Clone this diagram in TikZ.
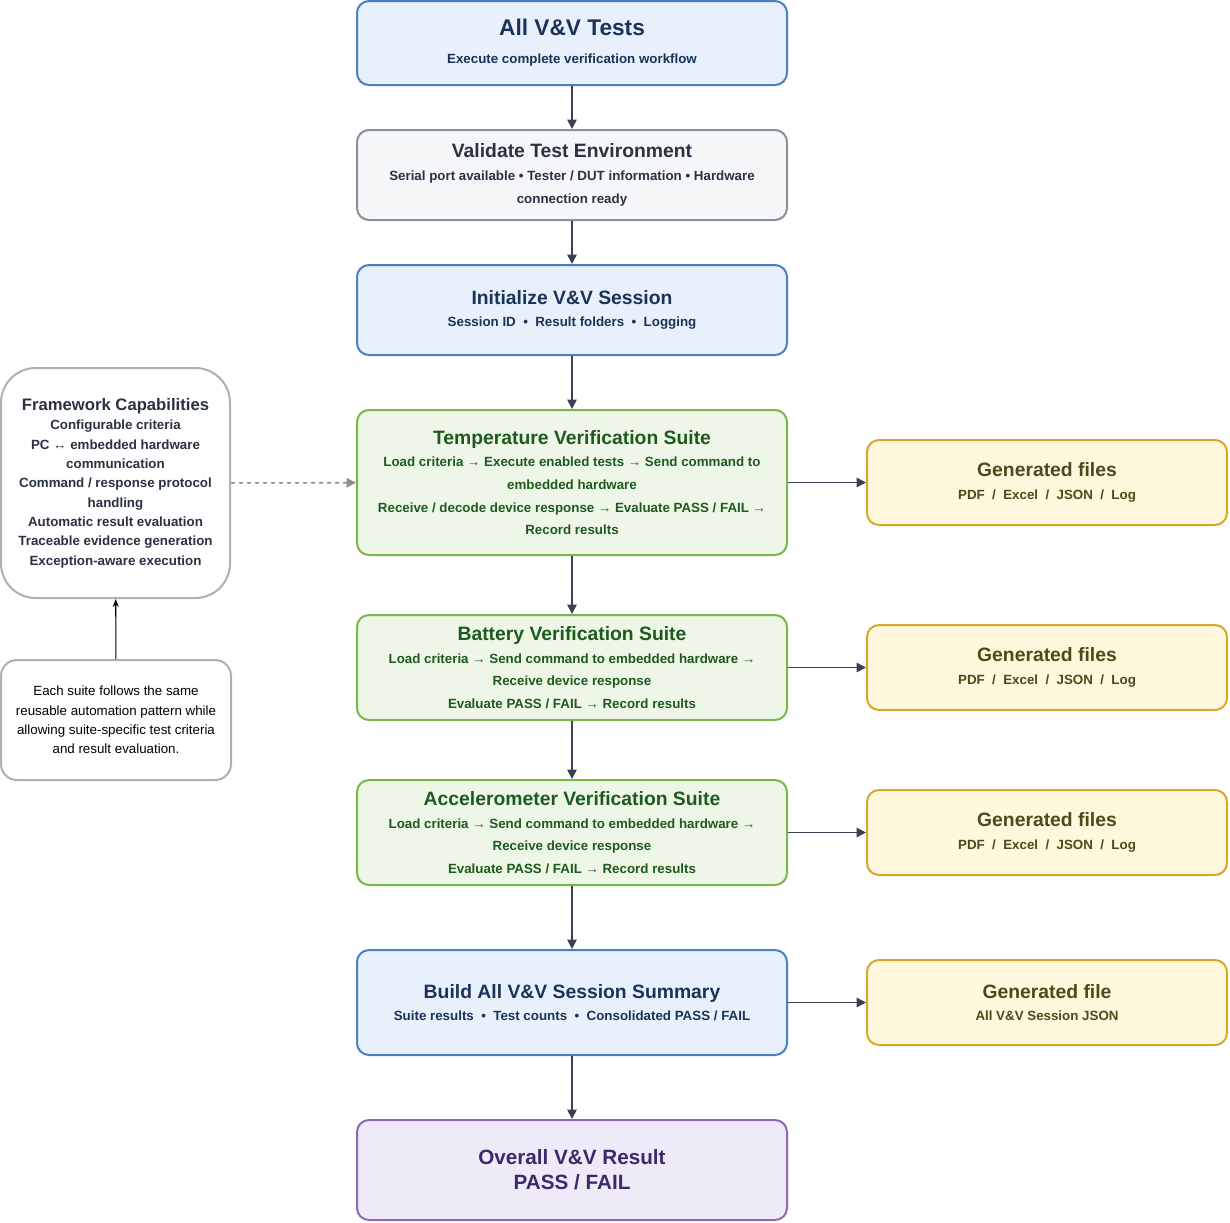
\documentclass[tikz,border=0pt]{standalone}
\usepackage{fontspec}
\setmainfont{Liberation Sans}
\usetikzlibrary{arrows.meta}
\definecolor{bfill}{HTML}{E8F0FB}\definecolor{bdraw}{HTML}{4A7FC1}\definecolor{btext}{HTML}{1B3358}
\definecolor{gfill}{HTML}{F5F6F8}\definecolor{gdraw}{HTML}{8A9099}\definecolor{gtext}{HTML}{2A3140}
\definecolor{grfill}{HTML}{EEF6E8}\definecolor{grdraw}{HTML}{7AB648}\definecolor{grtext}{HTML}{1E5A1E}
\definecolor{pfill}{HTML}{EFEAF8}\definecolor{pdraw}{HTML}{8A6BB0}\definecolor{ptext}{HTML}{3B2A6B}
\definecolor{yfill}{HTML}{FFF8DC}\definecolor{ydraw}{HTML}{D4A82A}\definecolor{ytext}{HTML}{4A4A1A}
\definecolor{ldraw}{HTML}{AAB0BA}\definecolor{arr}{HTML}{3A4150}
\newcommand\ttlf{\bfseries\fontsize{14.5}{17}\selectfont}
\tikzset{x=0.75pt,y=-0.75pt,
 box/.style={draw,line width=1.5pt,rounded corners=9pt,minimum width=430*0.75pt,align=center,font=\bfseries\fontsize{10}{17}\selectfont,inner sep=0pt},
 bluebox/.style={box,fill=bfill,draw=bdraw,text=btext},
 graybox/.style={box,fill=gfill,draw=gdraw,text=gtext},
 greenbox/.style={box,fill=grfill,draw=grdraw,text=grtext},
 purplebox/.style={box,fill=pfill,draw=pdraw,text=ptext},
 yelbox/.style={box,fill=yfill,draw=ydraw,text=ytext,minimum width=360*0.75pt,minimum height=85*0.75pt},
 flow/.style={draw=arr,line width=1.2pt,-{Triangle[length=7pt,width=7pt]}}}
\begin{document}
\begin{tikzpicture}
\useasboundingbox (0,0) rectangle (1230,1222);
\node[bluebox,minimum height=84*0.75pt] (a) at (572,43) {{\fontsize{17}{20}\selectfont All V\&V Tests}\\[4pt]Execute complete verification workflow};
\node[graybox,minimum height=90*0.75pt] (b) at (572,175) {{\ttlf Validate Test Environment}\\Serial port available • Tester / DUT information • Hardware\\connection ready};
\node[bluebox,minimum height=90*0.75pt] (c) at (572,310) {{\ttlf Initialize V\&V Session}\\Session ID\ \ •\ \ Result folders\ \ •\ \ Logging};
\node[greenbox,minimum height=145*0.75pt] (d) at (572,482.5) {{\ttlf Temperature Verification Suite}\\Load criteria → Execute enabled tests → Send command to\\embedded hardware\\Receive / decode device response → Evaluate PASS / FAIL →\\Record results};
\node[greenbox,minimum height=105*0.75pt] (e) at (572,667.5) {{\ttlf Battery Verification Suite}\\Load criteria → Send command to embedded hardware →\\Receive device response\\Evaluate PASS / FAIL → Record results};
\node[greenbox,minimum height=105*0.75pt] (f) at (572,832.5) {{\ttlf Accelerometer Verification Suite}\\Load criteria → Send command to embedded hardware →\\Receive device response\\Evaluate PASS / FAIL → Record results};
\node[bluebox,minimum height=105*0.75pt] (g) at (572,1002.5) {{\ttlf Build All V\&V Session Summary}\\Suite results\ \ •\ \ Test counts\ \ •\ \ Consolidated PASS / FAIL};
\node[purplebox,minimum height=100*0.75pt,font=\bfseries\fontsize{15.5}{19}\selectfont] (h) at (572,1170) {Overall V\&V Result\\PASS / FAIL};
\node[yelbox] (y1) at (1047,482.5) {{\ttlf Generated files}\\PDF\ \ /\ \ Excel\ \ /\ \ JSON\ \ /\ \ Log};
\node[yelbox] (y2) at (1047,667.5) {{\ttlf Generated files}\\PDF\ \ /\ \ Excel\ \ /\ \ JSON\ \ /\ \ Log};
\node[yelbox] (y3) at (1047,832.5) {{\ttlf Generated files}\\PDF\ \ /\ \ Excel\ \ /\ \ JSON\ \ /\ \ Log};
\node[yelbox] (y4) at (1047,1002.5) {{\ttlf Generated file}\\All V\&V Session JSON};
\node[box,draw=ldraw,fill=white,text=gtext,rounded corners=26pt,minimum width=229*0.75pt,minimum height=230*0.75pt,font=\bfseries\fontsize{10}{14.5}\selectfont] (fw) at (115.5,483) {{\fontsize{12.5}{15}\selectfont Framework Capabilities}\\Configurable criteria\\PC ↔ embedded hardware\\communication\\Command / response protocol\\handling\\Automatic result evaluation\\Traceable evidence generation\\Exception-aware execution};
\node[box,draw=ldraw,fill=white,text=black,rounded corners=12pt,minimum width=230*0.75pt,minimum height=120*0.75pt,font=\fontsize{10}{14.5}\selectfont] (nt) at (116,720) {Each suite follows the same\\reusable automation pattern while\\allowing suite-specific test criteria\\and result evaluation.};
\draw[flow] (a) -- (b);
\draw[flow] (b) -- (c);
\draw[flow] (c) -- (d);
\draw[flow] (d) -- (e);
\draw[flow] (e) -- (f);
\draw[flow] (f) -- (g);
\draw[flow] (g) -- (h);
\draw[flow] (d) -- (y1);
\draw[flow] (e) -- (y2);
\draw[flow] (f) -- (y3);
\draw[flow] (g) -- (y4);
\draw[draw=gdraw,line width=1.2pt,dashed,-{Triangle[length=7pt,width=7pt]}] (fw) -- (d);
\draw[black,line width=0.8pt,-{Stealth[length=6pt]}] (nt) -- (fw);
\end{tikzpicture}
\end{document}
